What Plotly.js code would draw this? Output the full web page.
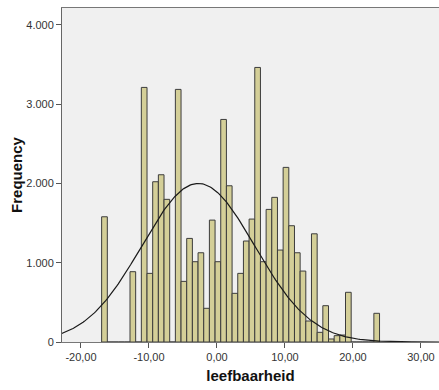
<!DOCTYPE html>
<html>
<head>
<meta charset="utf-8">
<script src="https://cdn.plot.ly/plotly-3.0.1.min.js"></script>
<style>
  html, body { margin: 0; padding: 0; background: #ffffff; }
  #chart { width: 439px; height: 390px; }
</style>
</head>
<body>
<div id="chart"></div>
<script>
// Histogram of "leefbaarheid" (SPSS style) with normal curve
const binStart = -16.96;   // left edge of the first bin
const binWidth = 0.834;    // width of each bin
const frequencies = [
  1580, 0, 0, 0, 0, 887, 0, 3212, 866, 2022,
  2110, 1800, 0, 3187, 765, 1307, 1013, 1126, 425, 1538,
  1013, 2808, 1971, 614, 866, 1274, 1551, 3464, 1013, 1673,
  1825, 1160, 2203, 1467, 1126, 895, 265, 1365, 122, 458,
  38, 80, 88, 627, 0, 0, 0, 0, 362
];
// Normal curve parameters
const curveMean = -2.75;
const curveSD = 8.3;
const curvePeak = 2000;
const curveFrom = -22.84;
const curveTo = 32.7;

const xTickVals = [-20, -10, 0, 10, 20, 30];
const xTickText = ["-20,00", "-10,00", "0,00", "10,00", "20,00", "30,00"];
const yTickVals = [0, 1000, 2000, 3000, 4000];
const yTickText = ["0", "1.000", "2.000", "3.000", "4.000"];

const binCenters = frequencies.map((_, i) => binStart + (i + 0.5) * binWidth);

const curveX = [];
const curveY = [];
const steps = 300;
for (let k = 0; k <= steps; k++) {
  const x = curveFrom + (curveTo - curveFrom) * k / steps;
  curveX.push(x);
  curveY.push(curvePeak * Math.exp(-Math.pow(x - curveMean, 2) / (2 * curveSD * curveSD)));
}

const bars = {
  type: 'bar',
  x: binCenters,
  y: frequencies,
  width: binWidth,
  marker: { color: '#d4cf98', line: { color: '#3c3c3c', width: 1 } },
  hoverinfo: 'x+y'
};
const curve = {
  type: 'scatter',
  mode: 'lines',
  x: curveX,
  y: curveY,
  line: { color: '#1a1a1a', width: 1.2 },
  hoverinfo: 'skip'
};

const layout = {
  width: 439,
  height: 390,
  margin: { l: 62, r: 0, t: 8, b: 48 },
  paper_bgcolor: '#ffffff',
  plot_bgcolor: '#f0f0f0',
  showlegend: false,
  separators: ',.',
  font: { family: 'Liberation Sans, Arial, sans-serif', size: 11, color: '#333333' },
  bargap: 0,
  xaxis: {
    range: [-22.79, 32.65],
    tickvals: xTickVals,
    ticktext: xTickText,
    ticks: 'outside',
    ticklen: 5,
    tickwidth: 1,
    tickcolor: '#555555',
    showgrid: false,
    zeroline: false,
    showline: true,
    linecolor: '#777777',
    linewidth: 1,
    mirror: true,
    automargin: false,
    tickfont: { size: 11, color: '#333333' },
    title: { text: 'leefbaarheid', font: { size: 15, color: '#111111', weight: 'bold' }, standoff: 8 }
  },
  yaxis: {
    range: [0, 4214],
    tickvals: yTickVals,
    ticktext: yTickText,
    ticks: 'outside',
    ticklen: 5,
    tickwidth: 1,
    tickcolor: '#555555',
    showgrid: false,
    zeroline: false,
    showline: true,
    linecolor: '#666666',
    linewidth: 1,
    automargin: false,
    tickfont: { size: 11, color: '#333333' },
    title: { text: 'Frequency', font: { size: 15, color: '#111111', weight: 'bold' }, standoff: 0 }
  }
};

Plotly.newPlot('chart', [bars, curve], layout, { displayModeBar: false, staticPlot: true });
</script>
</body>
</html>
